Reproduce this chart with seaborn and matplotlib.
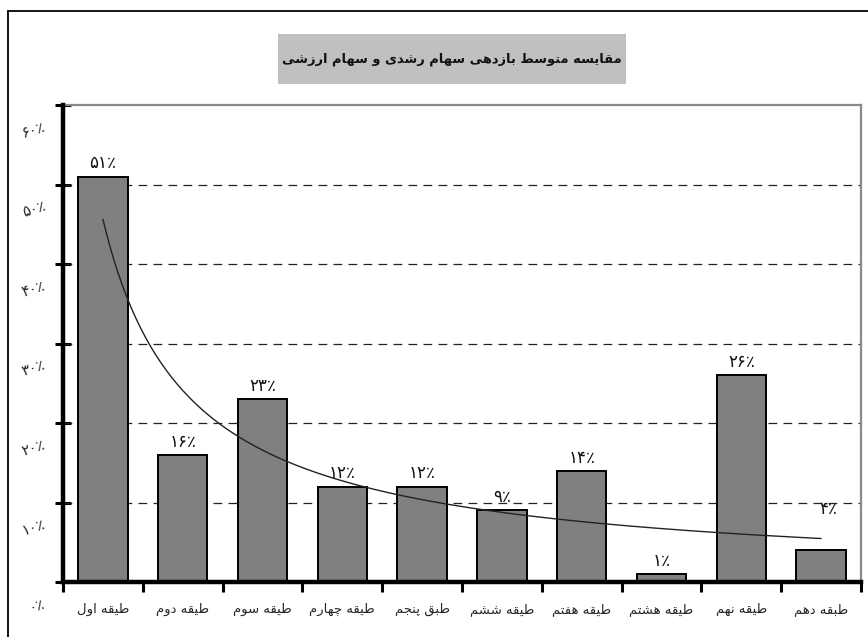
import numpy as np
import pandas as pd
import matplotlib
matplotlib.use("Agg")
import matplotlib.pyplot as plt
import matplotlib.transforms as mtransforms
import seaborn as sns
from matplotlib.patches import Rectangle
from matplotlib.lines import Line2D

# ---- data -------------------------------------------------------------
title = "مقایسه متوسط بازدهی سهام رشدی و سهام ارزشی"
categories = ["طیقه اول", "طیقه دوم", "طیقه سوم", "طیقه چهارم", "طبق پنجم",
              "طیقه ششم", "طیقه هفتم", "طیقه هشتم", "طیقه نهم", "طبقه دهم"]
returns = [51, 16, 23, 12, 12, 9, 14, 1, 26, 4]          # percent
y_ticks = [0, 10, 20, 30, 40, 50, 60]

# ---- minimal Arabic-script shaping (contextual forms + visual order) ---
FORMS = {
    "ا": ("\uFE8D", "\uFE8E", None, None),
    "ب": ("\uFE8F", "\uFE90", "\uFE91", "\uFE92"),
    "پ": ("\uFB56", "\uFB57", "\uFB58", "\uFB59"),
    "ت": ("\uFE95", "\uFE96", "\uFE97", "\uFE98"),
    "ج": ("\uFE9D", "\uFE9E", "\uFE9F", "\uFEA0"),
    "چ": ("\uFB7A", "\uFB7B", "\uFB7C", "\uFB7D"),
    "د": ("\uFEA9", "\uFEAA", None, None),
    "ر": ("\uFEAD", "\uFEAE", None, None),
    "ز": ("\uFEAF", "\uFEB0", None, None),
    "س": ("\uFEB1", "\uFEB2", "\uFEB3", "\uFEB4"),
    "ش": ("\uFEB5", "\uFEB6", "\uFEB7", "\uFEB8"),
    "ط": ("\uFEC1", "\uFEC2", "\uFEC3", "\uFEC4"),
    "ف": ("\uFED1", "\uFED2", "\uFED3", "\uFED4"),
    "ق": ("\uFED5", "\uFED6", "\uFED7", "\uFED8"),
    "ل": ("\uFEDD", "\uFEDE", "\uFEDF", "\uFEE0"),
    "م": ("\uFEE1", "\uFEE2", "\uFEE3", "\uFEE4"),
    "ن": ("\uFEE5", "\uFEE6", "\uFEE7", "\uFEE8"),
    "ه": ("\uFEE9", "\uFEEA", "\uFEEB", "\uFEEC"),
    "و": ("\uFEED", "\uFEEE", None, None),
    "ی": ("\uFBFC", "\uFBFD", "\uFBFE", "\uFBFF"),
}


def shape(text):
    out = []
    for i, ch in enumerate(text):
        if ch not in FORMS:
            out.append(ch)
            continue
        iso, fin, ini, med = FORMS[ch]
        prev = text[i - 1] if i > 0 else ""
        nxt = text[i + 1] if i + 1 < len(text) else ""
        join_prev = prev in FORMS and FORMS[prev][2] is not None
        join_next = nxt in FORMS and ini is not None
        if join_prev and join_next:
            out.append(med)
        elif join_prev:
            out.append(fin)
        elif join_next:
            out.append(ini)
        else:
            out.append(iso)
    return "".join(reversed(out))


FA_DIGITS = str.maketrans("0123456789", "۰۱۲۳۴۵۶۷۸۹")


def fa_pct(v):
    return str(v).translate(FA_DIGITS) + "٪"


# ---- figure -----------------------------------------------------------
sns.set_theme(style="white")
plt.rcParams["font.family"] = ["DejaVu Sans"]

W, H = 868, 637
fig = plt.figure(figsize=(W / 100, H / 100), dpi=100)
fig.patch.set_facecolor("white")

x0, x1, ytop, ybot = 63, 861, 105, 582
ax = fig.add_axes([x0 / W, (H - ybot) / H, (x1 - x0) / W, (ybot - ytop) / H])

df = pd.DataFrame({"cat": categories, "ret": returns})
sns.barplot(data=df, x="cat", y="ret", order=categories, color="#808080",
            saturation=1, edgecolor="black", linewidth=1.4, width=0.62, ax=ax,
            zorder=3)

# power trendline fitted to the class returns
xs = np.arange(1, len(returns) + 1)
b, ln_a = np.polyfit(np.log(xs), np.log(returns), 1)
xf = np.linspace(1, len(returns), 200)
trend = pd.DataFrame({"x": xf - 1, "y": np.exp(ln_a) * xf ** b})
sns.lineplot(data=trend, x="x", y="y", color="#222222", linewidth=1.0, ax=ax,
             zorder=4)

# value labels
for i, v in enumerate(returns):
    off = (0, 3) if i < len(returns) - 1 else (5, 23)
    ax.annotate(fa_pct(v), (i, v), xytext=off, textcoords="offset points",
                ha="center", va="bottom", fontsize=12, color="#111111")

ax.set_xlim(-0.5, len(categories) - 0.5)
ax.set_ylim(0, 60)
ax.set_xlabel("")
ax.set_ylabel("")

ax.set_yticks(y_ticks)
ax.set_yticklabels([fa_pct(t) for t in y_ticks], fontsize=10.5, rotation=18)
ax.set_xticks(range(len(categories)))
ax.set_xticklabels([shape(c) for c in categories], fontsize=9.5)
ax.set_xticks(np.arange(-0.5, len(categories), 1.0), minor=True)

ax.tick_params(axis="y", which="major", direction="inout", length=11,
               width=2.2, color="black", pad=6, left=True)
ax.tick_params(axis="x", which="major", length=0, pad=15)
ax.tick_params(axis="x", which="minor", direction="out", length=7,
               width=2.2, color="black", bottom=True)

# y labels sit a little below their ticks
shift = mtransforms.ScaledTranslation(0, -20 / 100, fig.dpi_scale_trans)
for lbl in ax.get_yticklabels():
    lbl.set_transform(lbl.get_transform() + shift)

for yv in y_ticks[1:-1]:
    ax.axhline(yv, color="#222222", linewidth=0.9, linestyle=(0, (7, 5)),
               zorder=1)

ax.spines["left"].set_color("black")
ax.spines["left"].set_linewidth(3.2)
ax.spines["bottom"].set_color("black")
ax.spines["bottom"].set_linewidth(3.2)
for s in ("top", "right"):
    ax.spines[s].set_visible(True)
    ax.spines[s].set_color("#8a8a8a")
    ax.spines[s].set_linewidth(1.6)
ax.spines["left"].set_zorder(6)
ax.spines["bottom"].set_zorder(6)

# title box
bx0, bx1, by0, by1 = 278, 626, 34, 84
fig.patches.append(Rectangle((bx0 / W, 1 - by1 / H), (bx1 - bx0) / W,
                             (by1 - by0) / H, transform=fig.transFigure,
                             facecolor="#C0C0C0", edgecolor="none"))
fig.text((bx0 + bx1) / 2 / W, 1 - (by0 + by1) / 2 / H, shape(title),
         ha="center", va="center", fontsize=9.4, fontweight="bold",
         color="#111111")

# outer chart frame
fig.add_artist(Line2D([8 / W, 8 / W], [0, 1 - 11 / H], transform=fig.transFigure,
                      color="black", linewidth=1.3))
fig.add_artist(Line2D([8 / W, 1], [1 - 11 / H, 1 - 11 / H],
                      transform=fig.transFigure, color="black", linewidth=1.3))

fig.savefig("out.png", dpi=100, facecolor="white")
